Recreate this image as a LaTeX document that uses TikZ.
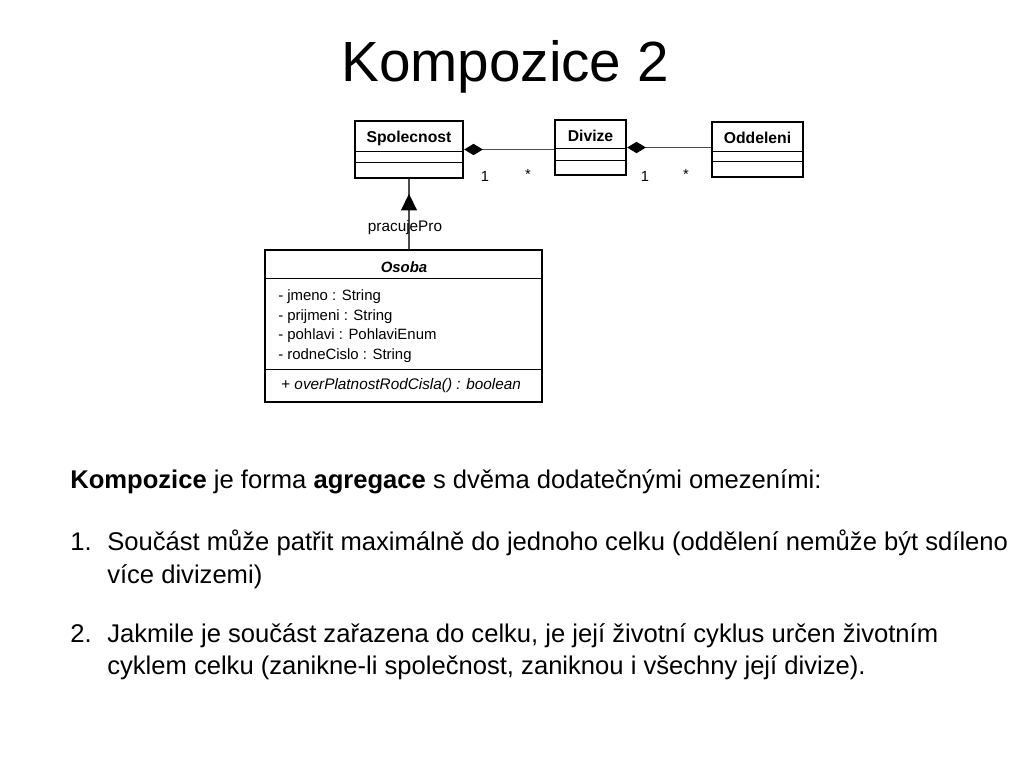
\documentclass[tikz,border=0pt]{standalone}
\usepackage{fontspec}
\setmainfont{Liberation Sans}
\usetikzlibrary{positioning,arrows.meta,fit,calc}
\tikzset{
  umlbox/.style={rectangle,draw=black,line width=1.8pt,inner sep=0pt,fill=white},
  umlname/.style={font=\fontsize{11.8}{13}\selectfont\bfseries,inner sep=0pt},
  umlattr/.style={font=\fontsize{11.2}{14.6}\selectfont,align=left,inner sep=0pt},
  umldiv/.style={line width=0.75pt,draw=black},
  umllabel/.style={font=\fontsize{11}{12}\selectfont,inner sep=0pt},
  compo/.style={-{Diamond[length=14pt,width=8.5pt,black]},line width=0.75pt,draw=black!70},
  assoc/.style={line width=0.9pt,draw=black!70},
  navtip/.style={-{Triangle[length=12.5pt,width=12pt,black]},line width=0.9pt,draw=black!70},
  titletext/.style={font=\fontsize{42.5}{50}\selectfont,inner sep=0pt},
  bodytext/.style={font=\fontsize{19.2}{24}\selectfont,inner sep=0pt,anchor=base west},
}
\begin{document}
\begin{tikzpicture}[x=0.75pt,y=-0.75pt]
  \useasboundingbox[fill=white] (0,0) rectangle (1024,768);

  \node[titletext] (title) at (505,67) {Kompozice 2};

  % classes
  \node[umlbox,fit={(355,121) (463,178)}] (spol) {};
  \draw[umldiv] ($(spol.north west)+(0,32)$) -- ($(spol.north east)+(0,32)$);
  \draw[umldiv] ($(spol.north west)+(0,43)$) -- ($(spol.north east)+(0,43)$);
  \node[umlname] (spolname) at (409,138) {Spolecnost};

  \node[umlbox,fit={(555,120) (626,175)}] (divize) {};
  \draw[umldiv] ($(divize.north west)+(0,30)$) -- ($(divize.north east)+(0,30)$);
  \draw[umldiv] ($(divize.north west)+(0,42)$) -- ($(divize.north east)+(0,42)$);
  \node[umlname] (divizename) at (590.5,136) {Divize};

  \node[umlbox,fit={(712,122) (803,177)}] (odd) {};
  \draw[umldiv] ($(odd.north west)+(0,31)$) -- ($(odd.north east)+(0,31)$);
  \draw[umldiv] ($(odd.north west)+(0,41)$) -- ($(odd.north east)+(0,41)$);
  \node[umlname] (oddname) at (757.5,138) {Oddeleni};

  \node[umlbox,fit={(265,250) (542,402)}] (osoba) {};
  \draw[umldiv] ($(osoba.north west)+(0,30)$) -- ($(osoba.north east)+(0,30)$);
  \draw[umldiv] ($(osoba.north west)+(0,121)$) -- ($(osoba.north east)+(0,121)$);
  \node[umlname,font=\fontsize{11.2}{13}\selectfont\bfseries\itshape] (osobaname) at (404,267) {Osoba};
  \node[umlattr,anchor=west] (osobaattr) at (278,326)
    {- jmeno : String\\- prijmeni : String\\- pohlavi : PohlaviEnum\\- rodneCislo : String};
  \node[umlattr,anchor=west,font=\fontsize{11.5}{14.6}\selectfont] (osobaop) at (281,386)
    {+ \textit{overPlatnostRodCisla() : boolean}};

  % connectors
  \draw[compo] (divize.west |- spol.east) -- (spol.east);
  \draw[compo] (odd.west |- divize.east) -- (divize.east);
  \node[umllabel] (m1) at (485,176) {1};
  \node[umllabel] (m2) at (528,174) {*};
  \node[umllabel] (m3) at (645,176) {1};
  \node[umllabel] (m4) at (686,174) {*};

  \draw[assoc] (spol.south |- osoba.north) -- (spol.south);
  \draw[navtip] (spol.south |- osoba.north) -- ++(0,-55);
  \node[umllabel,font=\fontsize{11.5}{13}\selectfont] (pracuje) at (405,228) {pracujePro};

  % text
  \node[bodytext] (intro) at (70,488)
    {\textbf{Kompozice} je forma \textbf{agregace} s dvěma dodatečnými omezeními:};
  \node[bodytext] (num1) at (70,550) {1.};
  \node[bodytext] (item1a) at (107,550)
    {Součást může patřit maximálně do jednoho celku (oddělení nemůže být sdíleno};
  \node[bodytext] (item1b) at (107,583) {více divizemi)};
  \node[bodytext] (num2) at (70,642) {2.};
  \node[bodytext] (item2a) at (107,642)
    {Jakmile je součást zařazena do celku, je její životní cyklus určen životním};
  \node[bodytext] (item2b) at (107,674)
    {cyklem celku (zanikne-li společnost, zaniknou i všechny její divize).};
\end{tikzpicture}
\end{document}
